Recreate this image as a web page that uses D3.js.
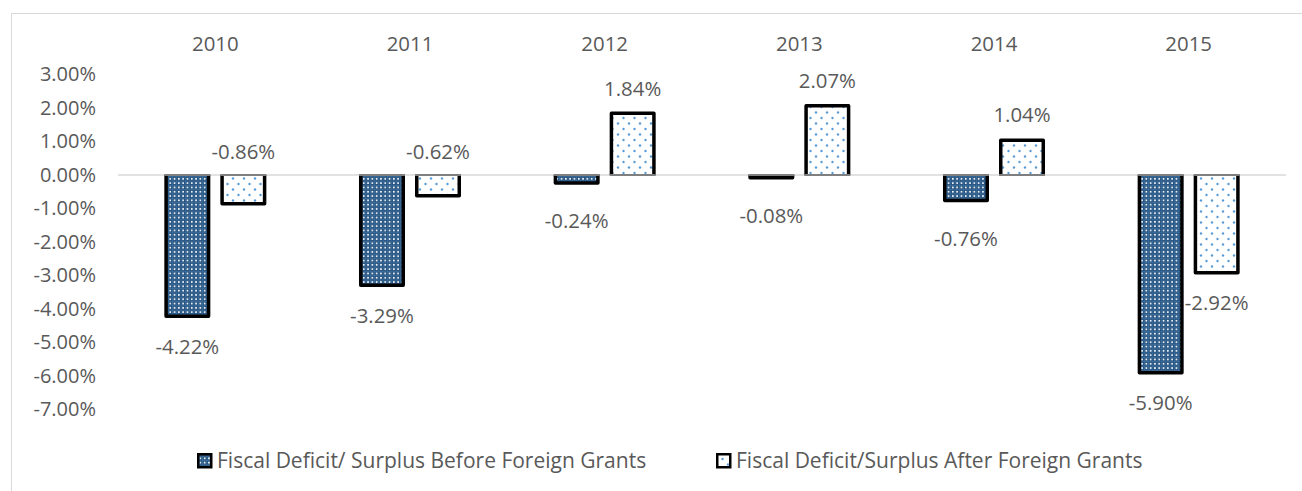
<!DOCTYPE html>
<html>
<head>
<meta charset="utf-8">
<script src="https://cdn.jsdelivr.net/npm/d3@7"></script>
<style>
  html, body { margin: 0; padding: 0; background: #fff; }
  svg { display: block; }
  text { font-family: "Open Sans", sans-serif; fill: #595959; }
</style>
</head>
<body>
<svg id="chart" width="1302" height="491"></svg>
<script>
// ---- data ----
const years = ["2010", "2011", "2012", "2013", "2014", "2015"];
const seriesNames = ["Fiscal Deficit/ Surplus Before Foreign Grants", "Fiscal Deficit/Surplus After Foreign Grants"];
const beforeGrants = [-4.22, -3.29, -0.24, -0.08, -0.76, -5.90];
const afterGrants = [-0.86, -0.62, 1.84, 2.07, 1.04, -2.92];
const yTicks = [3, 2, 1, 0, -1, -2, -3, -4, -5, -6, -7];

const svg = d3.select("#chart");
const plotLeft = 118, plotRight = 1286;
const pct = v => d3.format(".2f")(v).replace("\u2212", "-") + "%";

// patterns
const defs = svg.append("defs");
const p1 = defs.append("pattern").attr("id", "pat1").attr("patternUnits", "userSpaceOnUse")
  .attr("width", 4.3).attr("height", 4.3);
p1.append("rect").attr("width", 4.3).attr("height", 4.3).attr("fill", "#21507f");
p1.append("rect").attr("x", 0).attr("y", 0).attr("width", 4.3).attr("height", 0.8).attr("fill", "#3d6b98");
p1.append("rect").attr("x", 0).attr("y", 0).attr("width", 0.8).attr("height", 4.3).attr("fill", "#3d6b98");
p1.append("circle").attr("cx", 2.55).attr("cy", 2.55).attr("r", 1.0).attr("fill", "#f2f6fa");

const p2 = defs.append("pattern").attr("id", "pat2").attr("patternUnits", "userSpaceOnUse")
  .attr("width", 11).attr("height", 11);
p2.append("rect").attr("width", 11).attr("height", 11).attr("fill", "#ffffff");
p2.append("circle").attr("cx", 2).attr("cy", 2.5).attr("r", 1.2).attr("fill", "#5b9bd5");
p2.append("circle").attr("cx", 7.5).attr("cy", 8).attr("r", 1.2).attr("fill", "#5b9bd5");

// chart border
svg.append("rect").attr("x", 11.5).attr("y", 13.5).attr("width", 1400).attr("height", 600)
  .attr("fill", "none").attr("stroke", "#d9d9d9").attr("stroke-width", 1);

// scales
const x0 = d3.scaleBand().domain(years).range([plotLeft, plotRight]);
const x1 = d3.scaleBand().domain([0, 1]).range([0, x0.bandwidth()])
  .paddingInner(0.1786).paddingOuter(0.827);
const y = d3.scaleLinear().domain([-7, 3]).range([409.5, 74.5]);

// y axis labels
const yAxis = d3.axisLeft(y).tickValues(yTicks).tickSize(0).tickPadding(22).tickFormat(pct);
const gy = svg.append("g").attr("transform", `translate(${plotLeft},0)`).call(yAxis);
gy.select(".domain").remove();
gy.selectAll("text").attr("font-family", "Open Sans").attr("font-size", 20).attr("fill", "#595959");

// category labels on top
const xAxis = d3.axisTop(x0).tickSize(0).tickPadding(0);
const gx = svg.append("g").attr("transform", `translate(0,51)`).call(xAxis);
gx.select(".domain").remove();
gx.selectAll("text").attr("font-family", "Open Sans").attr("font-size", 20.4).attr("fill", "#595959").attr("dy", 0);

// zero line
svg.append("line").attr("x1", plotLeft).attr("x2", plotRight)
  .attr("y1", y(0)).attr("y2", y(0)).attr("stroke", "#d9d9d9").attr("stroke-width", 1.5);

// bars
const data = [];
years.forEach((yr, i) => {
  data.push({ yr, s: 0, v: beforeGrants[i] });
  data.push({ yr, s: 1, v: afterGrants[i] });
});
const sw = 3.5;
const barG = svg.append("g");
data.forEach(d => {
  const bx = x0(d.yr) + x1(d.s) + sw / 2;
  const bw = x1.bandwidth() - sw;
  const y0 = y(0), yv = y(d.v);
  barG.append("rect").attr("x", bx).attr("width", bw)
    .attr("y", Math.min(y0, yv)).attr("height", Math.abs(yv - y0))
    .attr("fill", d.s === 0 ? "url(#pat1)" : "url(#pat2)");
  barG.append("path")
    .attr("d", `M${bx},${y0}L${bx},${yv}L${bx + bw},${yv}L${bx + bw},${y0}`)
    .attr("fill", "none").attr("stroke", "#000").attr("stroke-width", sw).attr("stroke-linejoin", "round");
  barG.append("line").attr("x1", bx - sw / 2).attr("x2", bx + bw + sw / 2)
    .attr("y1", y0).attr("y2", y0).attr("stroke", "#7f7f7f").attr("stroke-width", 2);
});

// data labels
data.forEach(d => {
  const cx = x0(d.yr) + x1(d.s) + x1.bandwidth() / 2;
  let cy;
  if (d.s === 0) {
    cy = y(d.v) + (d.v < -2 ? 30.5 : 38);
  } else {
    if (d.v >= 0) cy = y(d.v) - 25;
    else if (d.v > -1) cy = y(0) - 23;
    else cy = y(d.v) + 30;
  }
  svg.append("text").attr("x", cx).attr("y", cy).attr("dy", "0.35em")
    .attr("text-anchor", "middle").attr("font-size", 20.4).text(pct(d.v));
});

// legend
const legendItems = [{ name: seriesNames[0], pat: "url(#pat1)", x: 197 }, { name: seriesNames[1], pat: "url(#pat2)", x: 716 }];
const lg = svg.append("g");
legendItems.forEach(it => {
  lg.append("rect").attr("x", it.x + 1.25).attr("y", 454.25).attr("width", 13).attr("height", 13)
    .attr("fill", it.pat).attr("stroke", "#000").attr("stroke-width", 2.5);
  lg.append("text").attr("x", it.x + 20).attr("y", 461).attr("dy", "0.35em")
    .attr("font-size", 21).text(it.name);
});
</script>
</body>
</html>
